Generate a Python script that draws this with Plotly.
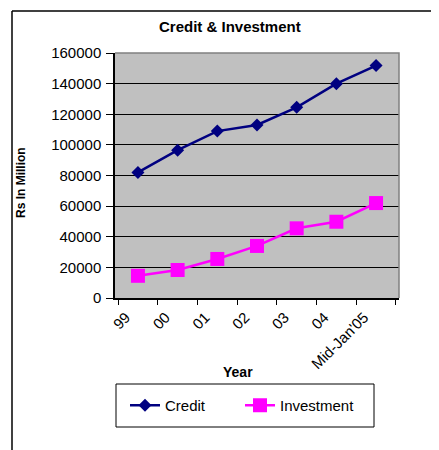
import plotly.graph_objects as go

years = ["99", "00", "01", "02", "03", "04", "Mid-Jan'05"]
credit = [82000, 96500, 109000, 113000, 124500, 140000, 151800]
investment = [14500, 18300, 25500, 34000, 45500, 49800, 62000]
y_ticks = [0, 20000, 40000, 60000, 80000, 100000, 120000, 140000, 160000]

OFF = 8  # default page body margin
W, H = 439 - OFF, 450 - OFF
# plot area in page pixels: x 115..399, y 53..298
L, T = 115 - OFF, 53 - OFF
R = W - (399 - OFF)
B = H - (298 - OFF)
pw, ph = W - L - R, H - T - B

def px(x):
    return (x - OFF - L) / pw

def py(y):
    return (H - B - (y - OFF)) / ph

FONT = "Liberation Sans, Arial, sans-serif"

fig = go.Figure()
fig.add_trace(go.Scatter(
    x=years, y=credit, name="Credit", mode="lines+markers",
    line=dict(color="#000080", width=2.5),
    marker=dict(symbol="diamond", size=10, color="#000080"),
    legend="legend",
))
fig.add_trace(go.Scatter(
    x=years, y=investment, name="Investment", mode="lines+markers",
    line=dict(color="#FF00FF", width=2.5),
    marker=dict(symbol="square", size=14, color="#FF00FF"),
    legend="legend2",
))

leg_common = dict(
    orientation="h", yanchor="middle", xanchor="left",
    bgcolor="rgba(0,0,0,0)", borderwidth=0,
    font=dict(family=FONT, size=15, color="black"),
)

fig.update_layout(
    width=W, height=H,
    margin=dict(l=L, r=R, t=T, b=B, pad=0),
    paper_bgcolor="white",
    plot_bgcolor="#C0C0C0",
    font=dict(family=FONT, size=15, color="black"),
    showlegend=True,
    legend=dict(x=px(125), y=py(405.5), **leg_common),
    legend2=dict(x=px(240), y=py(405.5), **leg_common),
    xaxis=dict(
        type="category", tickson="boundaries", ticks="outside", ticklen=5,
        tickcolor="black", showline=True, linecolor="black", linewidth=1.5,
        showgrid=False, tickangle=-45, tickfont=dict(size=15),
        ticklabelshift=-12, ticklabelstandoff=3,
    ),
    yaxis=dict(
        range=[0, 160000], tickvals=y_ticks, tickformat="d",
        ticks="outside", ticklen=7, tickcolor="black",
        showline=True, linecolor="black", linewidth=1.5,
        showgrid=True, gridcolor="black", gridwidth=1,
        zeroline=False, tickfont=dict(size=15), ticklabelstandoff=2,
    ),
    annotations=[
        dict(text="<b>Credit & Investment</b>", x=px(230), y=py(26),
             xref="paper", yref="paper", showarrow=False,
             font=dict(size=15, family=FONT), xanchor="center", yanchor="middle"),
        dict(text="<b>Rs In Million</b>", x=px(21), y=py(183),
             xref="paper", yref="paper", showarrow=False, textangle=-90,
             font=dict(size=12, family=FONT), xanchor="center", yanchor="middle"),
        dict(text="<b>Year</b>", x=px(238), y=py(372),
             xref="paper", yref="paper", showarrow=False,
             font=dict(size=14, family=FONT), xanchor="center", yanchor="middle"),
    ],
    shapes=[
        dict(type="path", xref="paper", yref="paper",
             path="M 0 1 L 1 1 L 1 0", line=dict(color="#808080", width=1.5),
             layer="above"),
        dict(type="line", xref="paper", yref="paper",
             x0=px(12), x1=px(12), y0=py(11), y1=py(460),
             line=dict(color="black", width=1.5)),
        dict(type="line", xref="paper", yref="paper",
             x0=px(12), x1=px(445), y0=py(11), y1=py(11),
             line=dict(color="black", width=1.5)),
        dict(type="rect", xref="paper", yref="paper",
             x0=px(116), x1=px(374), y0=py(384), y1=py(427),
             line=dict(color="black", width=1), fillcolor="white",
             layer="above"),
    ],
)

fig.write_html("out.html")
